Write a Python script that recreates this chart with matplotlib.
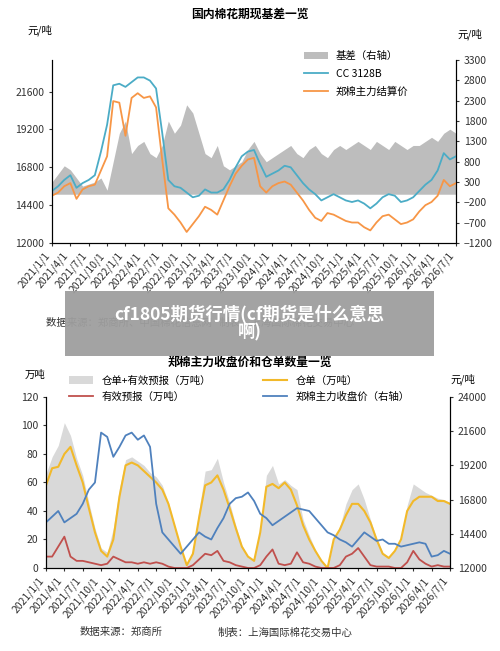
import matplotlib
matplotlib.use("Agg")
import matplotlib.pyplot as plt
import numpy as np

plt.rcParams['font.family'] = ['Noto Sans CJK SC', 'DejaVu Sans']

tick_labels = [f"{y}/{m}/1" for y in range(2021, 2027) for m in (1, 4, 7, 10)][:23]

cc3128b = [15300,15600,16000,16300,15500,15800,16000,16300,17800,19500,22000,22100,
           21900,22200,22500,22500,22300,21800,19000,16000,15600,15500,15200,14900,
           15000,15400,15200,15200,15400,16000,16800,17500,17800,17900,17000,16200,
           16400,16600,16900,16800,16300,15800,15400,15100,14700,14900,15100,14900,
           14700,14600,14700,14500,14200,14500,14900,15100,15000,14600,14700,14900,
           15300,15700,16000,16600,17700,17300,17500]
zc_settle = [15000,15200,15600,15800,14800,15400,15600,15700,16600,17500,21000,20900,
             18800,21200,21500,21200,21300,20600,17300,14200,13800,13300,12700,13200,
             13700,14300,14100,13800,14700,15600,16400,16900,17300,17400,15600,15200,
             15600,15800,15900,15700,15200,14700,14100,13600,13400,13900,13800,13600,
             13400,13300,13300,13000,12800,13300,13700,13800,13500,13200,13300,13500,
             14000,14400,14600,15000,16000,15600,15800]
basis = [300,500,700,600,400,200,250,300,400,100,800,1500,
         1800,1000,1200,1300,1000,900,1200,1800,1500,1700,2200,2000,
         1500,1000,900,1200,700,600,700,800,1100,1300,1000,800,
         900,1000,1100,1200,1000,900,1100,1200,1000,900,1100,1200,
         1100,1200,1300,1200,1100,1300,1200,1100,1300,1200,1100,1200,
         1200,1300,1400,1300,1500,1600,1500]

receipts = [58,70,71,80,85,72,60,42,25,12,8,20,
            50,72,74,72,68,64,60,55,45,30,15,2,
            10,35,58,60,65,55,42,28,15,8,5,25,
            57,59,56,60,55,44,30,20,12,5,0,20,
            27,37,45,45,40,32,20,10,7,12,20,40,
            47,50,50,50,47,47,45]
forecast = [8,8,15,22,8,5,5,4,3,2,3,8,
            6,4,4,3,4,3,4,3,1,0,0,0,
            2,6,10,9,12,5,4,2,1,0,0,2,
            8,13,3,2,3,11,4,3,1,0,0,0,
            2,8,10,14,8,2,1,1,1,0,0,4,
            12,6,3,1,2,1,1]
close = [15200,15600,16000,15200,15500,15800,16500,17500,18000,21500,21200,19800,
         20500,21300,21500,21000,21300,20500,16500,14500,14000,13500,13000,13500,
         14000,14500,14200,14000,14800,15500,16500,16900,17000,17300,16700,15800,
         15500,15000,15300,15600,15900,16200,16100,16000,15500,15000,14500,14300,
         14000,13800,13500,14000,14500,14200,13900,14000,13700,13700,13500,13600,
         13700,13800,13700,12800,12900,13200,13000]

x = np.arange(len(cc3128b))
ticks = np.arange(0, 67, 3)
fig = plt.figure(figsize=(5, 6.51), dpi=100)
fs = 7.5

def style(ax):
    ax.spines['top'].set_visible(False)
    ax.tick_params(labelsize=fs, length=2, direction='out', colors='#333333')

# --- top chart
ax1 = fig.add_axes([0.104, 0.6267, 0.808, 0.281])
ax1r = ax1.twinx()
ax1r.fill_between(x, 0, basis, color='#bdbdbd', lw=0, label='基差（右轴）')
ax1r.set_ylim(-1200, 3300)
ax1r.set_yticks(np.arange(-1200, 3301, 500))
ax1.set_zorder(ax1r.get_zorder() + 1); ax1.patch.set_visible(False)
l1, = ax1.plot(x, cc3128b, color='#4bacc6', lw=1.3, label='CC 3128B')
l2, = ax1.plot(x, zc_settle, color='#f79646', lw=1.3, label='郑棉主力结算价')
ax1.set_ylim(12000, 23600)
ax1.set_yticks(np.arange(12000, 21601, 2400))
ax1.set_xlim(0, 66)
ax1.set_xticks(ticks)
ax1.set_xticklabels(tick_labels, rotation=50, ha='right', fontsize=6.5)
for a in (ax1, ax1r):
    style(a)
h, l = ax1r.get_legend_handles_labels()
ax1.legend(h + [l1, l2], l + ['CC 3128B', '郑棉主力结算价'], loc='upper left',
           bbox_to_anchor=(0.6, 1.1), frameon=False, fontsize=fs, handlelength=2.3,
           labelspacing=0.75)
fig.text(0.5, 0.972, '国内棉花期现基差一览', ha='center', fontsize=8.5, weight='bold')
fig.text(0.055, 0.948, '元/吨', fontsize=fs)
fig.text(0.915, 0.942, '元/吨', fontsize=fs)
fig.text(0.092, 0.5, '数据来源：郑商所、中国棉花信息网   制表：上海国际棉花交易中心', fontsize=fs, color='#333333')

# --- bottom chart
ax2 = fig.add_axes([0.092, 0.1275, 0.808, 0.2627])
ax2r = ax2.twinx()
total = np.array(receipts) + np.array(forecast)
ax2.fill_between(x, 0, total, color='#d9d9d9', lw=0, label='仓单+有效预报（万吨）')
ax2.plot(x, receipts, color='#f2b92a', lw=1.5, label='仓单（万吨）')
ax2.plot(x, forecast, color='#c0504d', lw=1.3, label='有效预报（万吨）')
ax2r.plot(x, close, color='#4f81bd', lw=1.3, label='郑棉主力收盘价（右轴）')
ax2.set_ylim(0, 120); ax2.set_yticks(np.arange(0, 121, 20))
ax2r.set_ylim(12000, 24000); ax2r.set_yticks(np.arange(12000, 24001, 2400))
ax2.set_xlim(0, 66)
ax2.set_xticks(ticks)
ax2.set_xticklabels(tick_labels, rotation=50, ha='right', fontsize=6.5)
for a in (ax2, ax2r):
    style(a)
h1, lb1 = ax2.get_legend_handles_labels()
h2, lb2 = ax2r.get_legend_handles_labels()
hh = [h1[0], h1[2], h1[1], h2[0]]
ll = [lb1[0], lb1[2], lb1[1], lb2[0]]
fig.legend(hh, ll, ncol=2, loc='lower left', bbox_to_anchor=(0.12, 0.368), frameon=False,
           fontsize=fs, handlelength=2.3, columnspacing=5, labelspacing=0.6)
fig.text(0.5, 0.444, '郑棉主力收盘价和仓单数量一览', ha='center', va='center', fontsize=8.5, weight='bold')
fig.text(0.05, 0.42, '万吨', fontsize=fs)
fig.text(0.9, 0.413, '元/吨', fontsize=fs)
fig.text(0.16, 0.024, '数据来源：郑商所', fontsize=fs, color='#333333')
fig.text(0.435, 0.024, '制表：上海国际棉花交易中心', fontsize=fs, color='#333333')

# --- banner overlay
bax = fig.add_axes([0.13, 0.453, 0.738, 0.1], zorder=20)
bax.set_facecolor('#9e9e9e'); bax.patch.set_alpha(0.95)
bax.set_xticks([]); bax.set_yticks([])
for s in bax.spines.values():
    s.set_visible(False)
bax.text(0.5, 0.5, 'cf1805期货行情(cf期货是什么意思\n啊)', ha='center', va='center',
         color='white', fontsize=12.5, weight='bold', linespacing=1.0, transform=bax.transAxes)

fig.savefig('out.png', dpi=100)
